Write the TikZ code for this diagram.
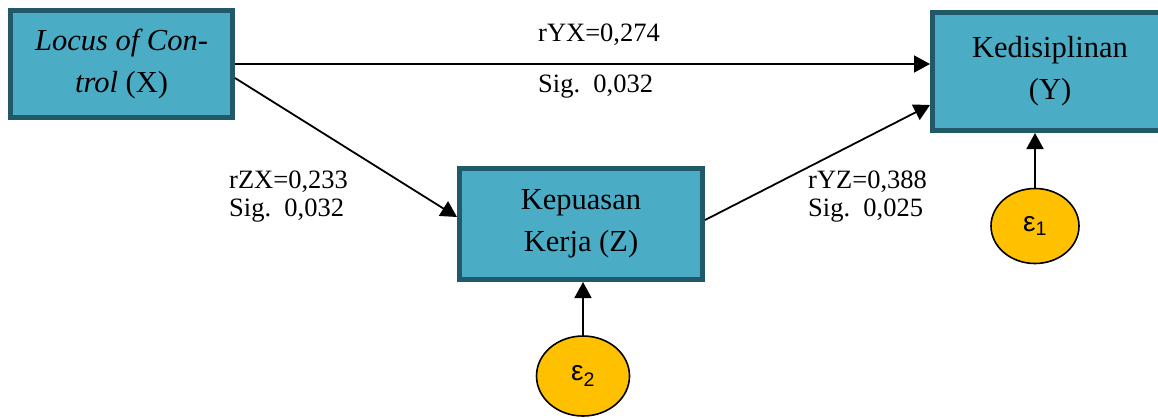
\documentclass[tikz,border=0pt]{standalone}
\usepackage{fontspec}
\setmainfont{Liberation Serif}
\newfontfamily\epsfont{Liberation Sans}
\usetikzlibrary{arrows.meta,shapes.geometric}

\definecolor{boxfill}{HTML}{4BACC6}
\definecolor{boxline}{HTML}{215968}
\definecolor{errfill}{HTML}{FFC000}

% significance label with a wide gap after "Sig."
\newcommand{\sigval}[1]{Sig.\hspace{0.5em}#1}

\tikzset{
  varbox/.style={draw=boxline, line width=5pt, fill=boxfill, rectangle,
    align=center, inner sep=0pt, text=black,
    font=\fontsize{30.5}{42}\selectfont},
  errnode/.style={draw=black, line width=1.6pt, fill=errfill, ellipse,
    inner sep=0pt, font=\epsfont\fontsize{28}{32}\selectfont},
  link/.style={draw=black, line width=1.8pt,
    -{Triangle[length=16pt,width=17pt]}},
  coef/.style={anchor=base west, inner sep=0pt,
    font=\fontsize{26.5}{30}\selectfont}
}

\begin{document}
\begin{tikzpicture}[x=1pt,y=-1pt]
  \useasboundingbox (0,0) rectangle (1158,418);
  \clip (0,0) rectangle (1158,418);

  % variables
  \node[varbox, minimum width=222pt, minimum height=107pt] (X) at (121.5,64)
    {\textit{Locus of Con-}\\\textit{trol} (X)};
  \node[varbox, minimum width=235pt, minimum height=118pt] (Y) at (1050,71.5)
    {Kedisiplinan\\(Y)};
  \node[varbox, minimum width=243pt, minimum height=111pt] (Z) at (581,224)
    {Kepuasan\\Kerja (Z)};

  % error terms
  \node[errnode, minimum width=88pt, minimum height=75pt] (e1) at (1035,226)
    {ε\textsubscript{1}};
  \node[errnode, minimum width=93pt, minimum height=80pt] (e2) at (583,376)
    {ε\textsubscript{2}};

  % paths
  \draw[link] (X.east) -- (X.east -| Y.west);
  \draw[link] ([yshift=-14pt]X.east) -- ([yshift=7pt]Z.west);
  \draw[link] ([yshift=4pt]Z.east) -- ([yshift=-33.5pt]Y.west);
  \draw[link] (e1) -- (e1 |- Y.south);
  \draw[link] (e2) -- (e2 |- Z.south);

  % coefficients
  \node[coef] (cyx) at (538,41) {rYX=0,274};
  \node[coef] (syx) at (538,92) {\sigval{0,032}};
  \node[coef] (czx) at (229,188) {rZX=0,233};
  \node[coef] (szx) at (229,216) {\sigval{0,032}};
  \node[coef] (cyz) at (808,188) {rYZ=0,388};
  \node[coef] (syz) at (808,216) {\sigval{0,025}};
\end{tikzpicture}
\end{document}
